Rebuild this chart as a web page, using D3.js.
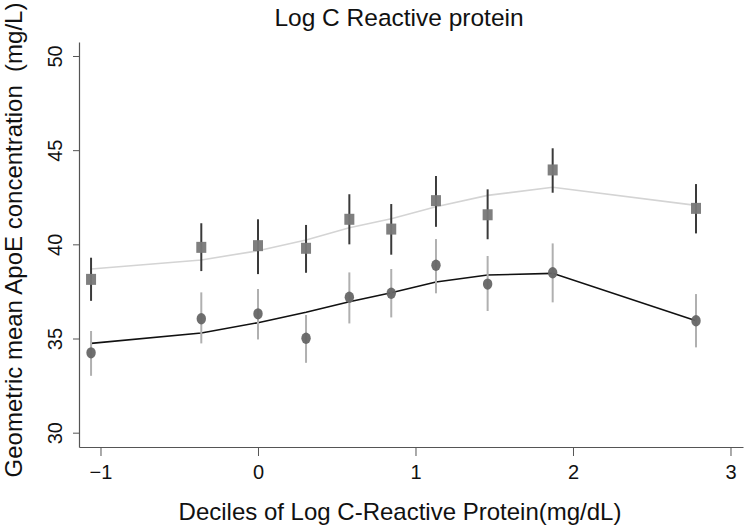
<!DOCTYPE html>
<html>
<head>
<meta charset="utf-8">
<script src="https://cdn.jsdelivr.net/npm/d3@7/dist/d3.min.js"></script>
<style>
  html, body { margin: 0; padding: 0; background: #fff; }
  svg { display: block; font-family: "Liberation Sans", Arial, Helvetica, sans-serif; }
</style>
</head>
<body>
<svg id="chart" width="746" height="529"></svg>
<script>
// Decile midpoints (log CRP)
const deciles = [-1.06, -0.36, 0.0, 0.305, 0.58, 0.846, 1.13, 1.458, 1.871, 2.781];

// Series A (squares)
const sqMean = [38.14, 39.84, 39.93, 39.79, 41.33, 40.81, 42.32, 41.57, 43.95, 41.91];
const sqLo   = [37.00, 38.58, 38.42, 38.49, 40.00, 39.45, 40.93, 40.27, 42.74, 40.58];
const sqHi   = [39.29, 41.12, 41.33, 41.03, 42.66, 42.14, 43.63, 42.92, 45.10, 43.20];
const sqFit  = [38.69, 39.17, 39.66, 40.23, 40.88, 41.36, 42.00, 42.60, 43.03, 42.07];

// Series B (circles)
const ciMean = [34.24, 36.05, 36.31, 35.01, 37.19, 37.40, 38.89, 37.89, 38.49, 35.94];
const ciLo   = [33.02, 34.74, 34.95, 33.71, 35.80, 36.12, 37.40, 36.46, 36.92, 34.53];
const ciHi   = [35.40, 37.45, 37.63, 36.25, 38.51, 38.69, 40.28, 39.38, 40.05, 37.36];
const ciFit  = [34.74, 35.29, 35.84, 36.39, 36.95, 37.43, 38.00, 38.37, 38.46, 35.94];

const xTicks = [-1, 0, 1, 2, 3];
const yTicks = [30, 35, 40, 45, 50];

const titleText = "Log C Reactive protein";
const xLabel = "Deciles of Log C-Reactive Protein(mg/dL)";
const yLabel = "Geometric mean ApoE concentration\u00a0\u00a0(mg/L)";

const svg = d3.select("#chart");

const x = d3.scaleLinear().domain([-1.1365, 3.0794]).range([79, 743]);
const y = d3.scaleLinear().domain([29.24, 50.743]).range([447, 42]);

const axisColor = "#555";

// X axis
const gx = svg.append("g").attr("transform", "translate(0,447)")
  .call(d3.axisBottom(x).tickValues(xTicks).tickFormat(d3.format("d")).tickSize(9).tickPadding(9).tickSizeOuter(0));
gx.select(".domain").attr("stroke", axisColor).attr("stroke-width", 1.2);
gx.selectAll(".tick line").attr("stroke", axisColor).attr("stroke-width", 1);
gx.selectAll(".tick text").attr("font-size", 20).attr("fill", "#111")
  .attr("font-family", "'Liberation Sans', Arial, Helvetica, sans-serif");

// Y axis
const gy = svg.append("g").attr("transform", "translate(79,0)")
  .call(d3.axisLeft(y).tickValues(yTicks).tickSize(6).tickSizeOuter(0));
gy.select(".domain").attr("stroke", axisColor).attr("stroke-width", 1.2);
gy.selectAll(".tick line").attr("stroke", axisColor).attr("stroke-width", 1);
gy.selectAll(".tick text")
  .attr("font-size", 20).attr("fill", "#111")
  .attr("font-family", "'Liberation Sans', Arial, Helvetica, sans-serif")
  .attr("x", null).attr("dy", null)
  .attr("text-anchor", "middle")
  .attr("dominant-baseline", "central")
  .attr("transform", "translate(-24,0) rotate(-90)");

// Fitted lines
const lineGen = (vals) => d3.line().x((d, i) => x(deciles[i])).y(d => y(d))(vals);

svg.append("path").attr("d", lineGen(sqFit))
  .attr("fill", "none").attr("stroke", "#d4d4d4").attr("stroke-width", 1.6);
svg.append("path").attr("d", lineGen(ciFit))
  .attr("fill", "none").attr("stroke", "#111").attr("stroke-width", 1.6);

// Error bars - squares (dark)
svg.append("g").selectAll("line").data(deciles).join("line")
  .attr("x1", d => x(d)).attr("x2", d => x(d))
  .attr("y1", (d, i) => y(sqLo[i])).attr("y2", (d, i) => y(sqHi[i]))
  .attr("stroke", "#3a3a3a").attr("stroke-width", 2);

// Error bars - circles (light)
svg.append("g").selectAll("line").data(deciles).join("line")
  .attr("x1", d => x(d)).attr("x2", d => x(d))
  .attr("y1", (d, i) => y(ciLo[i])).attr("y2", (d, i) => y(ciHi[i]))
  .attr("stroke", "#b0b0b0").attr("stroke-width", 2);

// Square markers
svg.append("g").selectAll("rect").data(deciles).join("rect")
  .attr("x", d => x(d) - 5).attr("y", (d, i) => y(sqMean[i]) - 5.5)
  .attr("width", 10).attr("height", 11)
  .attr("fill", "#787878").attr("fill-opacity", 0.95);

// Circle markers
svg.append("g").selectAll("ellipse").data(deciles).join("ellipse")
  .attr("cx", d => x(d)).attr("cy", (d, i) => y(ciMean[i]))
  .attr("rx", 4.7).attr("ry", 5.7)
  .attr("fill", "#666").attr("fill-opacity", 0.95);

// Title
svg.append("text").attr("x", 399).attr("y", 26)
  .attr("text-anchor", "middle").attr("font-size", 24.5).attr("fill", "#111")
  .text(titleText);

// X label
svg.append("text").attr("x", 400).attr("y", 520)
  .attr("text-anchor", "middle").attr("font-size", 24).attr("fill", "#111")
  .text(xLabel);

// Y label
svg.append("text").attr("transform", "translate(22,240) rotate(-90)")
  .attr("text-anchor", "middle").attr("font-size", 24).attr("fill", "#111")
  .text(yLabel);
</script>
</body>
</html>
